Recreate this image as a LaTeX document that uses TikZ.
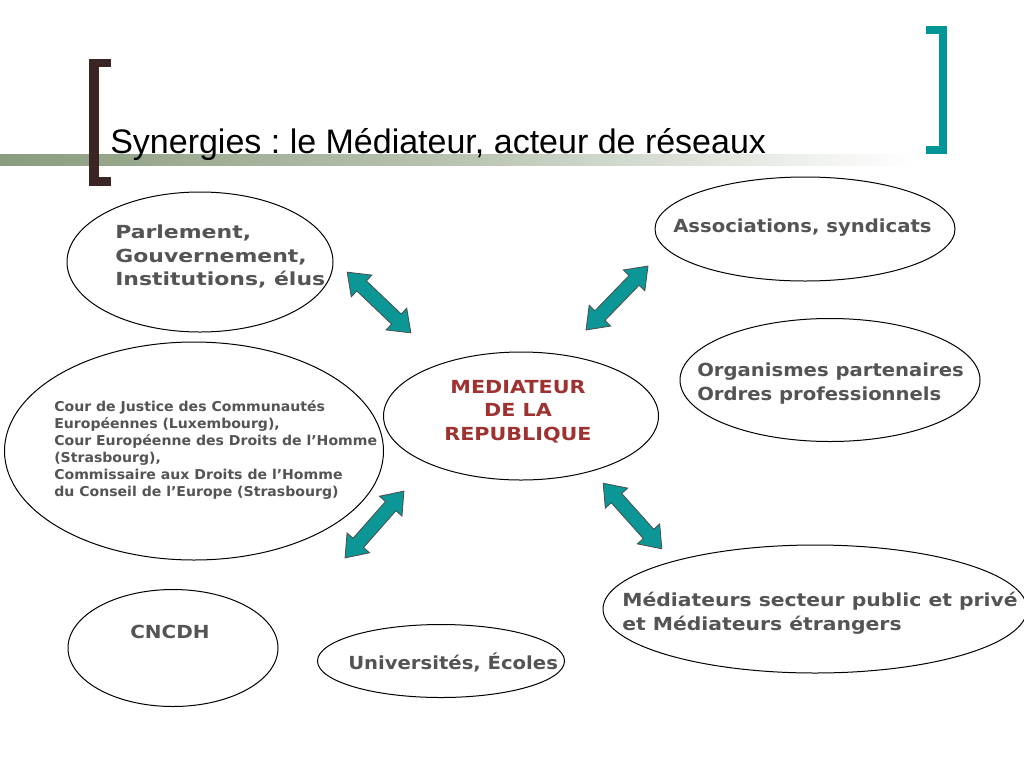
\documentclass[tikz,border=0pt]{standalone}
\usepackage{fontspec}
\setmainfont{Liberation Sans}
\newfontfamily\fParl[FakeStretch=1.22]{DejaVu Sans}
\newfontfamily\fAssoc[FakeStretch=1.09]{DejaVu Sans}
\newfontfamily\fCour[FakeStretch=1.035]{DejaVu Sans}
\newfontfamily\fMed[FakeStretch=1.15]{DejaVu Sans}
\newfontfamily\fMedsec[FakeStretch=1.13]{DejaVu Sans}
\newfontfamily\fCnc[FakeStretch=1.11]{DejaVu Sans}
\usetikzlibrary{shapes.geometric}
\definecolor{txtgray}{RGB}{84,84,84}
\definecolor{medred}{RGB}{158,50,48}
\definecolor{tealc}{RGB}{0,150,150}
\definecolor{arrowfill}{RGB}{12,150,150}
\definecolor{brackbrown}{RGB}{58,36,36}
\definecolor{barcol}{RGB}{138,156,126}
\newcommand\dblarrow[4]{%
  \draw[blockarrow, shift={(#1,#2)}, rotate=#3]
    (-#4/2,0) -- (-#4/2+20,15) -- (-#4/2+20,7) -- (#4/2-20,7) -- (#4/2-20,15)
    -- (#4/2,0) -- (#4/2-20,-15) -- (#4/2-20,-7) -- (-#4/2+20,-7) -- (-#4/2+20,-15) -- cycle;}
\begin{document}
\frenchspacing
\begin{tikzpicture}[x=0.75pt,y=-0.75pt,
  oval/.style={ellipse, draw=black, line width=0.75pt, inner sep=0pt},
  bodytxt/.style={text=txtgray, inner sep=0pt, align=left, font=#1\bfseries\fontsize{13.5}{17.6}\selectfont},
  smalltxt/.style={text=txtgray, inner sep=0pt, align=left, font=\fCour\bfseries\fontsize{10.2}{12.8}\selectfont},
  blockarrow/.style={fill=arrowfill, draw=black!70, line width=0.6pt, line join=miter}]
\useasboundingbox (0,0) rectangle (1024,768);
\fill[white] (0,0) rectangle (1024,768);
% title bar
\shade[left color=barcol, right color=white, middle color=barcol!60] (0,154) rectangle (915,165);
% brackets
\fill[brackbrown] (89,59) rectangle (99,186);
\fill[brackbrown] (89,59) rectangle (111,67);
\fill[brackbrown] (89,177) rectangle (111,186);
\fill[tealc] (939,26) rectangle (947,154);
\fill[tealc] (926,26) rectangle (947,34);
\fill[tealc] (926,146) rectangle (947,154);
\node[anchor=base west, inner sep=0pt, font=\fontsize{25.5}{30}\selectfont] (title) at (110,153) {Synergies : le Médiateur, acteur de réseaux};
% ellipses
\node[oval, minimum width=266*0.75pt, minimum height=140*0.75pt] (parl) at (200,262) {};
\node[oval, minimum width=300*0.75pt, minimum height=104*0.75pt] (assoc) at (805,229) {};
\node[oval, minimum width=300*0.75pt, minimum height=123*0.75pt] (org) at (830,380) {};
\node[oval, minimum width=379*0.75pt, minimum height=218*0.75pt] (cour) at (194,451) {};
\node[oval, minimum width=275*0.75pt, minimum height=128*0.75pt] (med) at (521,416) {};
\node[oval, minimum width=424*0.75pt, minimum height=128*0.75pt] (medsec) at (815,609) {};
\node[oval, minimum width=210*0.75pt, minimum height=117*0.75pt] (cncdh) at (173,648) {};
\node[oval, minimum width=247*0.75pt, minimum height=73*0.75pt] (univ) at (441,661) {};
% texts
\node[bodytxt=\fParl, anchor=north west] (tparl) at (115,225) {Parlement,\\Gouvernement,\\Institutions, élus};
\node[bodytxt=\fAssoc, anchor=base west] (tassoc) at (673,232) {Associations, syndicats};
\node[bodytxt=\fAssoc, anchor=north west] (torg) at (697,363) {Organismes partenaires\\Ordres professionnels};
\node[smalltxt, anchor=north west] (tcour) at (54,400) {Cour de Justice des Communautés\\Européennes (Luxembourg),\\Cour Européenne des Droits de l’Homme\\(Strasbourg),\\Commissaire aux Droits de l’Homme\\du Conseil de l’Europe (Strasbourg)};
\node[bodytxt=\fMed, align=center, anchor=north, text=medred] (tmed) at (518,380) {MEDIATEUR\\DE LA\\REPUBLIQUE};
\node[bodytxt=\fMedsec, anchor=north west] (tmedsec) at (622,592) {Médiateurs secteur public et privé\\et Médiateurs étrangers};
\node[bodytxt=\fCnc, anchor=base] (tcncdh) at (170,638) {CNCDH};
\node[bodytxt=\fAssoc, anchor=base west] (tuniv) at (348,669) {Universités, Écoles};
% arrows
\dblarrow{379}{302.5}{-43.6}{88}
\dblarrow{617}{298}{45.9}{89}
\dblarrow{374.5}{524.5}{48.6}{89}
\dblarrow{632.5}{516}{-48.2}{88}
\end{tikzpicture}
\end{document}
